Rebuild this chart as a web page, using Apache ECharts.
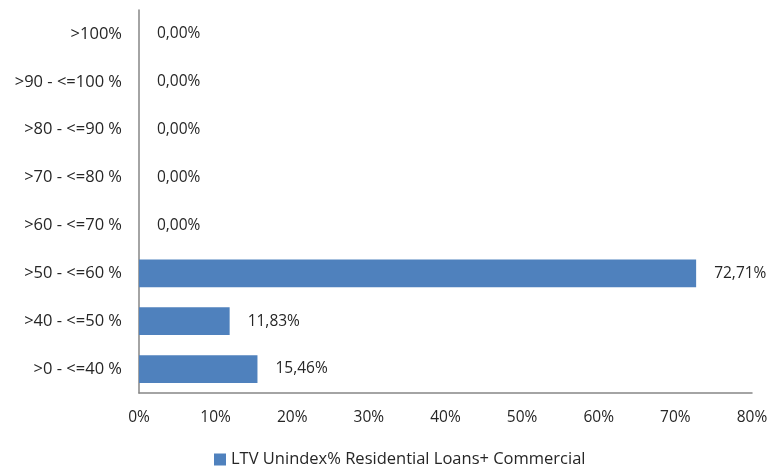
<!DOCTYPE html>
<html><head><meta charset="utf-8">
<script src="https://cdn.jsdelivr.net/npm/echarts@6/dist/echarts.min.js"></script>
<style>html,body{margin:0;padding:0;background:#fff}#c{width:773px;height:474px}</style>
</head><body><div id="c"></div>
<script>
var categories = ['>0 - <=40 %', '>40 - <=50 %', '>50 - <=60 %', '>60 - <=70 %', '>70 - <=80 %', '>80 - <=90 %', '>90 - <=100 %', '>100%'];
var values = [15.46, 11.83, 72.71, 0, 0, 0, 0, 0];
var seriesName = 'LTV Unindex% Residential Loans+ Commercial';
var xTicks = [0, 10, 20, 30, 40, 50, 60, 70, 80];

var chart = echarts.init(document.getElementById('c'));
var font = '"Open Sans", sans-serif';
chart.setOption({
  animation: false,
  textStyle: {fontFamily: font},
  grid: {left: 139, right: 21, top: 10, bottom: 81, containLabel: false},
  legend: {
    bottom: 1, left: 209, itemWidth: 12, itemHeight: 12, itemGap: 5,
    icon: 'rect',
    textStyle: {fontFamily: font, fontSize: 16.5, color: '#262626'},
    data: [seriesName]
  },
  xAxis: {
    type: 'value', min: 0, max: 80, interval: 10,
    axisLine: {show: true, lineStyle: {color: '#868686', width: 1.5}},
    axisTick: {show: false},
    splitLine: {show: false},
    axisLabel: {formatter: function(v){return v + '%';}, fontFamily: font, fontSize: 15.5, color: '#262626', margin: 17}
  },
  yAxis: {
    type: 'category', data: categories,
    axisLine: {show: true, lineStyle: {color: '#868686', width: 1.5}},
    axisTick: {show: false},
    axisLabel: {fontFamily: font, fontSize: 16.5, color: '#262626', margin: 17}
  },
  series: [{
    name: seriesName, type: 'bar', data: values,
    barCategoryGap: '42%',
    itemStyle: {color: '#4f81bd'},
    label: {
      show: true, position: 'right', distance: 18,
      fontFamily: font, fontSize: 15.5, color: '#262626',
      formatter: function(p){return p.value.toFixed(2).replace('.', ',') + '%';}
    }
  }]
});
</script></body></html>
